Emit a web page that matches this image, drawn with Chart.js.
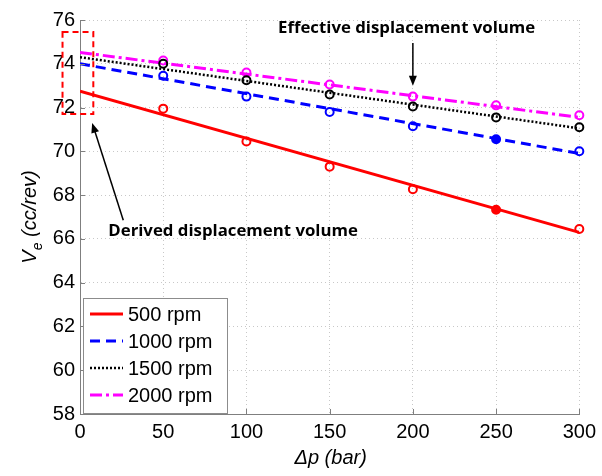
<!DOCTYPE html>
<html>
<head>
<meta charset="utf-8">
<script src="https://cdn.jsdelivr.net/npm/chart.js@4.4.1/dist/chart.umd.min.js"></script>
<style>
  html, body { margin: 0; padding: 0; background: #fff; }
  #wrap { width: 602px; height: 476px; }
</style>
</head>
<body>
<div id="wrap"><canvas id="chart-ve" width="602" height="476"></canvas></div>
<script>
// measured points (bar -> cc/rev)
const pressures = [50, 100, 150, 200, 250, 300];
const ve500 = [71.95, 70.45, 69.3, 68.27, 67.33, 66.45];
const ve1000 = [73.45, 72.5, 71.8, 71.15, 70.55, 70.0];
const ve1500 = [74.0, 73.25, 72.6, 72.05, 71.55, 71.1];
const ve2000 = [74.15, 73.6, 73.05, 72.5, 72.1, 71.65];

// linear fits, drawn from 0 to 300 bar
const fitRange = [0, 300];
const fit500 = [72.75, 66.3];
const fit1000 = [74.0, 69.9];
const fit1500 = [74.3, 71.05];
const fit2000 = [74.52, 71.55];

const rpmLabels = ['500 rpm', '1000 rpm', '1500 rpm', '2000 rpm'];
const xTicks = [0, 50, 100, 150, 200, 250, 300];
const yTicks = [58, 60, 62, 64, 66, 68, 70, 72, 74, 76];

const colors = ['#ff0000', '#0000ff', '#000000', '#ff00ff'];
const dashes = [[], [10, 6], [2, 2], [12, 4, 3, 4]];
const widths = [3, 3, 2.5, 3];

const toPts = (xs, ys) => xs.map((x, i) => ({ x: x, y: ys[i] }));

const fits = [fit500, fit1000, fit1500, fit2000];
const meas = [ve500, ve1000, ve1500, ve2000];

const datasets = [];
fits.forEach((f, i) => {
  datasets.push({
    label: rpmLabels[i],
    data: toPts(fitRange, f),
    showLine: true,
    borderColor: colors[i],
    borderWidth: widths[i],
    borderDash: dashes[i],
    pointRadius: 0,
    isFit: true,
    order: 2
  });
});
meas.forEach((m, i) => {
  datasets.push({
    label: rpmLabels[i] + ' data',
    data: toPts(pressures, m),
    showLine: false,
    borderColor: colors[i],
    pointBorderColor: colors[i],
    pointBorderWidth: 2,
    pointRadius: 4,
    // the 250 bar points of 500/1000 rpm look filled in the source
    pointBackgroundColor: ctx => (i < 2 && ctx.raw && ctx.raw.x === 250) ? colors[i] : 'rgba(0,0,0,0)',
    clip: false,
    order: 1
  });
});

function arrow(ctx, x1, y1, x2, y2) {
  const a = Math.atan2(y2 - y1, x2 - x1);
  ctx.beginPath();
  ctx.moveTo(x1, y1);
  ctx.lineTo(x2 - 6 * Math.cos(a), y2 - 6 * Math.sin(a));
  ctx.stroke();
  ctx.beginPath();
  ctx.moveTo(x2, y2);
  ctx.lineTo(x2 - 10 * Math.cos(a) + 4 * Math.sin(a), y2 - 10 * Math.sin(a) - 4 * Math.cos(a));
  ctx.lineTo(x2 - 10 * Math.cos(a) - 4 * Math.sin(a), y2 - 10 * Math.sin(a) + 4 * Math.cos(a));
  ctx.closePath();
  ctx.fill();
}

const notesPlugin = {
  id: 'notes',
  afterDatasetsDraw(chart) {
    const ctx = chart.ctx, xs = chart.scales.x, ys = chart.scales.y;
    const px = v => xs.getPixelForValue(v), py = v => ys.getPixelForValue(v);
    const area = chart.chartArea;
    ctx.save();
    // small inward tick marks, matlab style
    ctx.strokeStyle = '#7f7f7f';
    ctx.lineWidth = 1;
    ctx.beginPath();
    xTicks.forEach(v => { ctx.moveTo(Math.round(px(v)) + 0.5, area.bottom); ctx.lineTo(Math.round(px(v)) + 0.5, area.bottom - 5); });
    yTicks.forEach(v => { ctx.moveTo(area.left, Math.round(py(v)) + 0.5); ctx.lineTo(area.left + 5, Math.round(py(v)) + 0.5); });
    ctx.stroke();

    // dashed box around the derived volume at 0 bar
    ctx.strokeStyle = '#ff0000';
    ctx.lineWidth = 2;
    ctx.setLineDash([6, 4]);
    ctx.strokeRect(px(-10.5), py(75.45), px(8) - px(-10.5), py(71.7) - py(75.45));
    ctx.setLineDash([]);

    ctx.strokeStyle = '#000';
    ctx.fillStyle = '#000';
    ctx.lineWidth = 1.5;
    arrow(ctx, px(26), py(66.85), px(7.3), py(71.3));
    arrow(ctx, px(200), py(74.95), px(200), py(73.0));

    ctx.font = 'bold 16.8px "Open Sans", sans-serif';
    ctx.textBaseline = 'middle';
    ctx.textAlign = 'left';
    ctx.fillText('Derived displacement volume', px(17), py(66.36));
    ctx.fillText('Effective displacement volume', px(119), py(75.63));
    ctx.restore();
  },
  afterDraw(chart) {
    const ctx = chart.ctx, area = chart.chartArea;
    ctx.save();
    ctx.fillStyle = '#000';
    ctx.textBaseline = 'alphabetic';

    // x title
    ctx.font = 'italic 20px "Liberation Sans", Arial, sans-serif';
    ctx.textAlign = 'center';
    ctx.fillText('\u0394p (bar)', (area.left + area.right) / 2 + 1, 464);

    // y title with subscript
    ctx.translate(36, (area.top + area.bottom) / 2);
    ctx.rotate(-Math.PI / 2);
    const big = 'italic 20px "Liberation Sans", Arial, sans-serif';
    const small = 'italic 14px "Liberation Sans", Arial, sans-serif';
    ctx.font = big;
    const wV = ctx.measureText('V').width;
    const wRest = ctx.measureText(' (cc/rev)').width;
    ctx.font = small;
    const wE = ctx.measureText('e').width;
    let x0 = -(wV + wE + wRest) / 2;
    ctx.textAlign = 'left';
    ctx.font = big;
    ctx.fillText('V', x0, 0);
    ctx.font = small;
    ctx.fillText('e', x0 + wV, 6);
    ctx.font = big;
    ctx.fillText(' (cc/rev)', x0 + wV + wE, 0);
    ctx.restore();

    // legend in the lower left corner of the axes
    const fitsOnly = chart.data.datasets.filter(d => d.isFit);
    const lx = area.left + 3, ly = area.bottom - 116, lw = 144, lh = 115;
    ctx.save();
    ctx.fillStyle = '#fff';
    ctx.fillRect(lx, ly, lw, lh);
    ctx.strokeStyle = '#8c8c8c';
    ctx.lineWidth = 1;
    ctx.strokeRect(lx + 0.5, ly + 0.5, lw, lh);
    ctx.font = '20px "Liberation Sans", Arial, sans-serif';
    ctx.textBaseline = 'middle';
    ctx.textAlign = 'left';
    fitsOnly.forEach((d, i) => {
      const cy = ly + 16 + i * 27;
      ctx.strokeStyle = d.borderColor;
      ctx.lineWidth = d.borderWidth;
      ctx.setLineDash(d.borderDash);
      ctx.beginPath();
      ctx.moveTo(lx + 7, cy);
      ctx.lineTo(lx + 40, cy);
      ctx.stroke();
      ctx.setLineDash([]);
      ctx.fillStyle = '#000';
      ctx.fillText(d.label, lx + 45, cy + 1);
    });
    ctx.restore();
  }
};

const tickFont = { family: '"Liberation Sans", Arial, sans-serif', size: 20 };

new Chart(document.getElementById('chart-ve'), {
  type: 'scatter',
  data: { datasets: datasets },
  options: {
    responsive: false,
    animation: false,
    layout: { padding: { top: 20, right: 22, left: 0, bottom: 0 } },
    plugins: { legend: { display: false }, tooltip: { enabled: false } },
    scales: {
      x: {
        type: 'linear',
        min: xTicks[0], max: xTicks[xTicks.length - 1],
        afterBuildTicks: s => { s.ticks = xTicks.map(v => ({ value: v })); },
        afterFit: s => { s.height = 62; },
        ticks: { color: '#000', font: tickFont, padding: 6, maxRotation: 0 },
        grid: { color: '#c8c8c8', drawTicks: false },
        border: { display: true, color: '#7f7f7f', width: 1, dash: [1, 3] }
      },
      y: {
        type: 'linear',
        min: yTicks[0], max: yTicks[yTicks.length - 1],
        afterBuildTicks: s => { s.ticks = yTicks.map(v => ({ value: v })); },
        afterFit: s => { s.width = 80; },
        ticks: { color: '#000', font: tickFont, padding: 5 },
        grid: { color: '#c8c8c8', drawTicks: false },
        border: { display: true, color: '#7f7f7f', width: 1, dash: [1, 3] }
      }
    }
  },
  plugins: [notesPlugin]
});
</script>
</body>
</html>
